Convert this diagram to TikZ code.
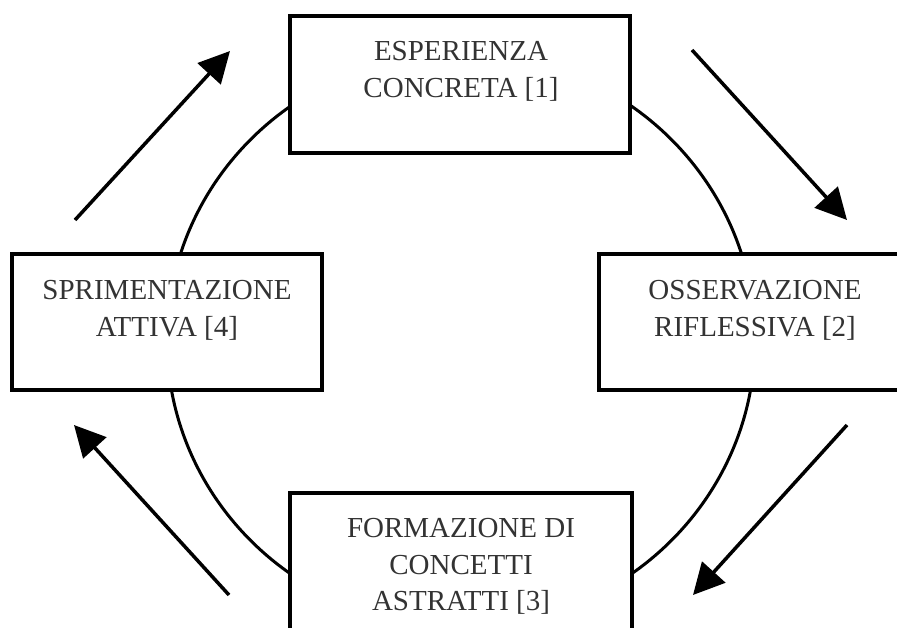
\documentclass[tikz,border=0pt]{standalone}
\usepackage{fontspec}
\setmainfont{Liberation Serif}
\usetikzlibrary{arrows.meta}
\begin{document}
\begin{tikzpicture}[x=1pt,y=-1pt,
  box/.style={draw=black,line width=4pt,fill=white,rectangle,inner sep=0pt},
  lbl/.style={align=center,text=black!80,inner sep=0pt,font=\fontsize{29}{36.5}\selectfont},
  cyc/.style={line width=3.5pt,-{Triangle[length=31pt,width=31pt]}},
  ring/.style={line width=3pt}]
\useasboundingbox (0,0) rectangle (897,628);
\clip (0,0) rectangle (897,628);
% circle behind boxes
\draw[ring] (461,340) ellipse [x radius=294, y radius=287];
% boxes
\node[box,minimum width=340pt,minimum height=137pt] (b1) at (460,84.5) {};
\node[box,minimum width=312pt,minimum height=136pt] (b2) at (755,322) {};
\node[box,minimum width=342pt,minimum height=140pt] (b3) at (461,563) {};
\node[box,minimum width=310pt,minimum height=136pt] (b4) at (167,322) {};
% labels
\node[lbl] (t1) at (461,71.5) {ESPERIENZA\\CONCRETA [1]};
\node[lbl] (t2) at (755,310.5) {OSSERVAZIONE\\RIFLESSIVA [2]};
\node[lbl] (t3) at (461,566.5) {FORMAZIONE DI\\CONCETTI\\ASTRATTI [3]};
\node[lbl] (t4) at (167,310.5) {SPRIMENTAZIONE\\ATTIVA [4]};
% arrows
\coordinate (a1s) at (75,220);  \coordinate (a1e) at (230,51);
\coordinate (a2s) at (692,50);  \coordinate (a2e) at (847,220);
\coordinate (a3s) at (847,425); \coordinate (a3e) at (693,595);
\coordinate (a4s) at (229,595); \coordinate (a4e) at (74,425);
\draw[cyc] (a1s) -- (a1e);
\draw[cyc] (a2s) -- (a2e);
\draw[cyc] (a3s) -- (a3e);
\draw[cyc] (a4s) -- (a4e);
\end{tikzpicture}
\end{document}
